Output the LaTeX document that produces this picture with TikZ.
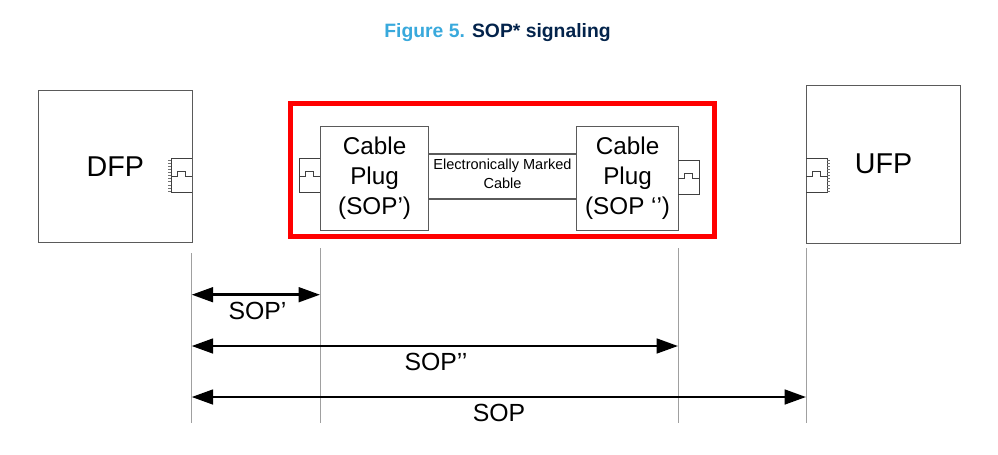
\documentclass[tikz,border=0pt]{standalone}
\usepackage{fontspec}
\setmainfont{Liberation Sans}
\usetikzlibrary{arrows.meta}
\definecolor{stblue}{HTML}{39A9DC}
\definecolor{stnavy}{HTML}{03234B}
\definecolor{boxgray}{HTML}{5A5A5A}
\definecolor{vgray}{HTML}{A0A0A0}
\tikzset{
  px/.style={x=0.75pt,y=-0.75pt},
  devbox/.style={draw=boxgray,line width=0.85pt,fill=white,inner sep=0pt,font=\fontsize{21.5}{24}\selectfont,align=center},
  plugbox/.style={draw=boxgray,line width=0.85pt,fill=white,inner sep=0pt,font=\fontsize{18.2}{22.5}\selectfont,align=center},
  cablebox/.style={draw=boxgray,line width=0.85pt,fill=white,inner sep=0pt,font=\fontsize{10.9}{14.2}\selectfont,align=center},
  portline/.style={draw=black!75,line width=0.6pt},
  finline/.style={draw=black!55,line width=0.45pt},
  guide/.style={draw=vgray,line width=0.6pt},
  span/.style={draw=black,line width=1.9pt,{Triangle[length=16pt,width=11pt]}-{Triangle[length=16pt,width=11pt]}},
  spanlabel/.style={font=\fontsize{18.6}{20}\selectfont,inner sep=0pt,text=black},
  redframe/.style={draw=red,line width=3.5pt},
  titletext/.style={font=\bfseries\fontsize{14.5}{16}\selectfont,inner sep=0pt}
}
\newcommand{\portshape}[3]{% x of inner edge, x of outer edge, y centre
  \draw[portline] (#1,#3-17) -- (#2,#3-17) -- (#2,#3+17) -- (#1,#3+17);
  \draw[portline] (#1,#3+1) -- ({#1+(#2-#1)*0.3},#3+1) -- ({#1+(#2-#1)*0.3},#3-4) -- ({#1+(#2-#1)*0.68},#3-4) -- ({#1+(#2-#1)*0.68},#3+1) -- (#2,#3+1);
}
\begin{document}
\begin{tikzpicture}[px]
\useasboundingbox (0,0) rectangle (998,454);
\node[titletext,anchor=center] (title) at (497.5,32.5) {\textcolor{stblue}{Figure 5.} \textcolor{stnavy}{SOP* signaling}};

\coordinate (g1t) at (191.7,253); \coordinate (g1b) at (191.7,423);
\coordinate (g2t) at (320,248);   \coordinate (g2b) at (320,423);
\coordinate (g3t) at (678,248);   \coordinate (g3b) at (678,423);
\coordinate (g4t) at (806,248);   \coordinate (g4b) at (806,423);
\draw[guide] (g1t) -- (g1b);
\draw[guide] (g2t) -- (g2b);
\draw[guide] (g3t) -- (g3b);
\draw[guide] (g4t) -- (g4b);

\node[devbox,minimum width=153.5*0.75pt,minimum height=152*0.75pt,anchor=north west] (dfp) at (38,90) {DFP};
\node[devbox,minimum width=154*0.75pt,minimum height=158*0.75pt,anchor=north west] (ufp) at (806,84.5) {UFP};

\portshape{191.7}{171}{175.5}
\foreach \i in {0,...,10} \draw[finline] (171,160+\i*3.1) -- (168,160+\i*3.1);
\portshape{806}{827}{175.8}
\foreach \i in {0,...,10} \draw[finline] (827,160+\i*3.1) -- (830,160+\i*3.1);

\node[redframe,minimum width=424*0.75pt,minimum height=133*0.75pt,inner sep=0pt,anchor=north west] (frame) at (288,101) {};

\node[cablebox,minimum width=150*0.75pt,minimum height=45*0.75pt,anchor=center] (cable) at (502.5,176.5) {Electronically Marked\\Cable\rule[-4.5pt]{0pt}{0pt}};

\node[plugbox,minimum width=108*0.75pt,minimum height=104*0.75pt,anchor=north west] (plugl) at (320,126) {Cable\\Plug\\(SOP’)\rule[-1pt]{0pt}{0pt}};
\node[plugbox,minimum width=102*0.75pt,minimum height=104*0.75pt,anchor=north west] (plugr) at (576,126) {Cable\\Plug\\(SOP ‘’)\rule[-1pt]{0pt}{0pt}};

\portshape{320}{299}{175.5}
\portshape{678}{699}{177}

\draw[span] (191.7,294.7) coordinate (a1) -- (320,294.7) coordinate (b1);
\draw[span] (191.7,346) coordinate (a2) -- (678,346) coordinate (b2);
\draw[span] (191.7,397) coordinate (a3) -- (806,397) coordinate (b3);
\node[spanlabel] (l1) at (257.5,311) {SOP’};
\node[spanlabel] (l2) at (436,362) {SOP’’};
\node[spanlabel] (l3) at (499,412.5) {SOP};
\end{tikzpicture}
\end{document}
